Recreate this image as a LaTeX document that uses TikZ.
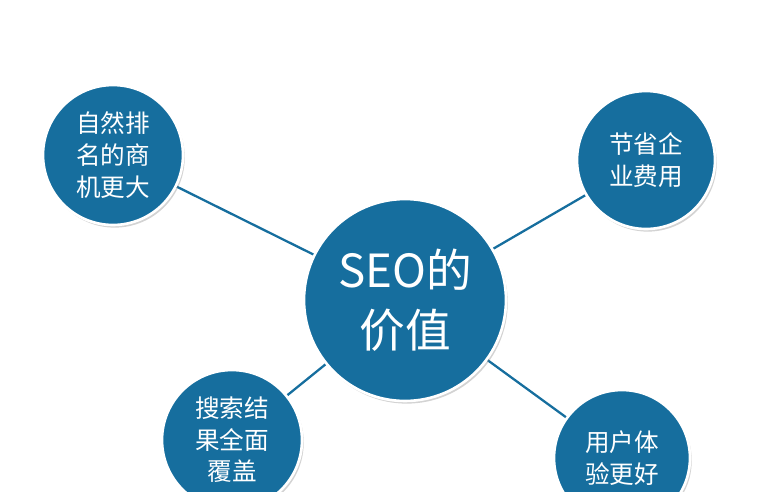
\documentclass[tikz,border=0pt]{standalone}
\usepackage{fontspec}
\setmainfont{Noto Sans CJK SC}
\usetikzlibrary{shadows}
\definecolor{seoblue}{RGB}{22,110,158}

\begin{document}
\begin{tikzpicture}[x=0.02cm,y=-0.02cm]
\tikzset{
  bubble/.style={circle,fill=seoblue,draw=white,line width=1.5pt,text=white,
    align=center,inner sep=0pt,drop shadow={opacity=0.35,shadow xshift=1pt,shadow yshift=-1.5pt}},
  link/.style={seoblue,line width=1.3pt}
}
\useasboundingbox (0,0) rectangle (775,491);
% spokes first, circles on top
\coordinate (c) at (405,300);
\coordinate (tl) at (113,155);
\coordinate (tr) at (646,160);
\coordinate (bl) at (232,440);
\coordinate (br) at (622,458);
\draw [link] (c) -- (tl);
\draw [link] (c) -- (tr);
\draw [link] (c) -- (bl);
\draw [link] (c) -- (br);
\node [bubble,minimum size=4.04cm,font=\fontsize{26}{34}\selectfont] (center) at (c) {SEO的\\价值};
\node [bubble,minimum size=2.8cm,font=\fontsize{14}{18}\selectfont] (rank) at (tl) {自然排\\名的商\\机更大};
\node [bubble,minimum size=2.76cm,font=\fontsize{14}{18}\selectfont] (cost) at (tr) {节省企\\业费用};
\node [bubble,minimum size=2.8cm,font=\fontsize{14}{18}\selectfont] (cover) at (bl) {搜索结\\果全面\\覆盖};
\node [bubble,minimum size=2.72cm,font=\fontsize{14}{18}\selectfont] (user) at (br) {用户体\\验更好};
\end{tikzpicture}
\end{document}
